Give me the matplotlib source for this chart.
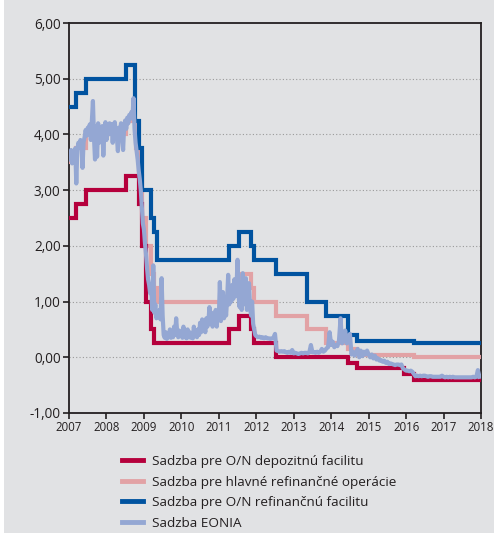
import numpy as np
import pandas as pd
import matplotlib
matplotlib.use("Agg")
import matplotlib.pyplot as plt
from matplotlib.patches import Rectangle

# ---------------- data ----------------
series_labels = [
    "Sadzba pre O/N depozitnú facilitu",
    "Sadzba pre hlavné refinančné operácie",
    "Sadzba pre O/N refinančnú facilitu",
    "Sadzba EONIA",
]

deposit_dates = ["2007-01-01", "2007-03-14", "2007-06-13", "2008-07-09", "2008-11-12",
                 "2008-12-10", "2009-01-21", "2009-03-11", "2009-04-08", "2011-04-13",
                 "2011-07-13", "2011-11-09", "2011-12-14", "2012-07-11", "2014-06-11",
                 "2014-09-10", "2015-12-09", "2016-03-16", "2017-12-31"]
deposit_rates = [2.50, 2.75, 3.00, 3.25, 2.75, 2.00, 1.00, 0.50, 0.25, 0.50,
                 0.75, 0.50, 0.25, 0.00, -0.10, -0.20, -0.30, -0.40, -0.40]

mro_dates = ["2007-01-01", "2007-03-14", "2007-06-13", "2008-07-09", "2008-10-15",
             "2008-11-12", "2008-12-10", "2009-01-21", "2009-03-11", "2009-04-08",
             "2009-05-13", "2011-04-13", "2011-07-13", "2011-11-09", "2011-12-14",
             "2012-07-11", "2013-05-08", "2013-11-13", "2014-06-11", "2014-09-10",
             "2016-03-16", "2017-12-31"]
mro_rates = [3.50, 3.75, 4.00, 4.25, 3.75, 3.25, 2.50, 2.00, 1.50, 1.25,
             1.00, 1.25, 1.50, 1.25, 1.00, 0.75, 0.50, 0.25, 0.15, 0.05,
             0.00, 0.00]

mlf_dates = ["2007-01-01", "2007-03-14", "2007-06-13", "2008-07-09", "2008-10-09",
             "2008-11-12", "2008-12-10", "2009-03-11", "2009-04-08", "2009-05-13",
             "2011-04-13", "2011-07-13", "2011-11-09", "2011-12-14", "2012-07-11",
             "2013-05-08", "2013-11-13", "2014-06-11", "2014-09-10", "2016-03-16",
             "2017-12-31"]
mlf_rates = [4.50, 4.75, 5.00, 5.25, 4.25, 3.75, 3.00, 2.50, 2.25, 1.75,
             2.00, 2.25, 2.00, 1.75, 1.50, 1.00, 0.75, 0.40, 0.30, 0.25, 0.25]

# EONIA readings, evenly spaced within each year
eonia_2007 = [3.65, 3.55, 3.72, 3.48, 3.70, 3.58, 3.75, 3.12, 3.72, 3.85, 3.76, 3.90,
              3.80, 3.40, 3.86, 3.95, 4.08, 3.98, 4.12, 4.02, 4.18, 3.90, 4.25, 4.60,
              3.95, 3.55, 4.15, 3.60, 4.20, 3.85, 4.10, 3.95, 4.15, 3.62, 4.05, 4.22]
eonia_2008 = [3.90, 4.15, 4.00, 4.20, 4.05, 4.18, 3.85, 4.15, 4.22, 4.05, 3.95, 3.70,
              4.12, 4.05, 4.20, 3.95, 3.72, 4.15, 4.25, 4.10, 4.30, 4.20, 4.35, 4.28,
              4.40, 4.30, 4.65, 4.10, 3.85, 3.70, 3.55, 3.35, 3.20, 3.00, 2.70, 2.40]
eonia_2009 = [2.30, 2.05, 1.85, 1.60, 1.40, 1.30, 1.15, 1.25, 0.85, 1.65, 0.80, 0.95,
              0.70, 0.80, 0.72, 0.85, 0.68, 1.42, 0.75, 0.40, 0.35, 0.45, 0.33, 0.40,
              0.36, 0.50, 0.35, 0.42, 0.36, 0.55, 0.40, 0.70, 0.45, 0.36, 0.48, 0.40]
eonia_2010 = [0.42, 0.35, 0.55, 0.36, 0.45, 0.34, 0.50, 0.36, 0.45, 0.35, 0.42, 0.34,
              0.55, 0.38, 0.48, 0.36, 0.50, 0.40, 0.62, 0.45, 0.68, 0.48, 0.60, 0.45,
              0.70, 0.55, 0.65, 0.90, 0.60, 0.80, 0.55, 0.75, 0.58, 0.85, 0.55, 0.80]
eonia_2011 = [0.70, 1.35, 0.65, 0.90, 1.17, 0.70, 0.95, 0.75, 1.05, 1.48, 0.95, 1.20,
              1.00, 1.30, 1.05, 1.40, 1.10, 1.25, 1.75, 1.10, 0.90, 1.35, 0.85, 1.51,
              0.95, 1.20, 1.42, 0.85, 1.15, 1.33, 0.90, 0.75, 1.00, 0.60, 0.50, 0.40]
eonia_2012 = [0.38, 0.36, 0.37, 0.35, 0.36, 0.34, 0.36, 0.34, 0.34, 0.33, 0.34, 0.35,
              0.42, 0.12, 0.11, 0.10, 0.11, 0.10, 0.11, 0.09, 0.08, 0.10, 0.08, 0.13]
eonia_2013 = [0.07, 0.08, 0.07, 0.06, 0.07, 0.08, 0.07, 0.08, 0.08, 0.07, 0.09, 0.22,
              0.09, 0.09, 0.08, 0.10, 0.08, 0.10, 0.15, 0.10, 0.12, 0.16, 0.18, 0.45]
eonia_2014 = [0.22, 0.28, 0.18, 0.22, 0.20, 0.30, 0.70, 0.25, 0.30, 0.48, 0.25, 0.35,
              0.42, 0.05, 0.10, 0.03, 0.08, 0.15, 0.00, 0.12, 0.02, 0.10, 0.05, 0.12]
eonia_2015 = [0.05, 0.00, 0.05, -0.02, 0.03, -0.04, -0.02, -0.06, -0.05, -0.08, -0.06, -0.10,
              -0.08, -0.12, -0.11, -0.12, -0.13, -0.14, -0.13, -0.13, -0.14, -0.13, -0.20, -0.22]
eonia_2016 = [-0.24, -0.24, -0.25, -0.24, -0.26, -0.30, -0.34, -0.33, -0.34, -0.33, -0.34, -0.33,
              -0.33, -0.34, -0.35, -0.34, -0.34, -0.35, -0.35, -0.35, -0.35, -0.35, -0.35, -0.33]
eonia_2017 = [-0.35, -0.36, -0.35, -0.36, -0.35, -0.36, -0.35, -0.36, -0.36, -0.36, -0.36, -0.36,
              -0.36, -0.36, -0.36, -0.36, -0.36, -0.36, -0.36, -0.35, -0.36, -0.35, -0.23, -0.35]
eonia_years = [2007, 2008, 2009, 2010, 2011, 2012, 2013, 2014, 2015, 2016, 2017]

x_ticks = [2007, 2008, 2009, 2010, 2011, 2012, 2013, 2014, 2015, 2016, 2017, 2018]
y_ticks = [-1, 0, 1, 2, 3, 4, 5, 6]
y_tick_labels = ["-1,00", "0,00", "1,00", "2,00", "3,00", "4,00", "5,00", "6,00"]

# ---------------- helpers ----------------
def dec_year(s):
    d = pd.Timestamp(s)
    start = pd.Timestamp(year=d.year, month=1, day=1)
    end = pd.Timestamp(year=d.year + 1, month=1, day=1)
    return d.year + (d - start) / (end - start)

dep_x = [dec_year(d) for d in deposit_dates]
mro_x = [dec_year(d) for d in mro_dates]
mlf_x = [dec_year(d) for d in mlf_dates]

eonia_lists = [eonia_2007, eonia_2008, eonia_2009, eonia_2010, eonia_2011, eonia_2012,
               eonia_2013, eonia_2014, eonia_2015, eonia_2016, eonia_2017]
eon_x, eon_y = [], []
for yr, vals in zip(eonia_years, eonia_lists):
    n = len(vals)
    for i, v in enumerate(vals):
        eon_x.append(yr + i / n)
        eon_y.append(v)

# ---------------- style ----------------
BG = "#e1e2e4"
C_DEP = "#b5003c"
C_MRO = "#e2a2a5"
C_MLF = "#0053a0"
C_EON = "#94a7d3"
FONT = ["Open Sans", "DejaVu Sans"]
plt.rcParams["font.family"] = FONT

W, H = 494, 533
fig = plt.figure(figsize=(W / 100, H / 100), dpi=100, facecolor=BG)
fig.patches.append(Rectangle((0, 0), 4 / W, 1, transform=fig.transFigure,
                             facecolor="white", edgecolor="none", zorder=0))

ax = fig.add_axes([69 / W, 1 - 413 / H, (481 - 69) / W, (413 - 23) / H])
ax.set_facecolor(BG)

ax.step(mro_x, mro_rates, where="post", color=C_MRO, lw=3.0, zorder=3,
        label=series_labels[1], solid_joinstyle="miter")
ax.step(dep_x, deposit_rates, where="post", color=C_DEP, lw=3.0, zorder=4,
        label=series_labels[0], solid_joinstyle="miter")
ax.step(mlf_x, mlf_rates, where="post", color=C_MLF, lw=3.0, zorder=4,
        label=series_labels[2], solid_joinstyle="miter")
ax.plot(eon_x, eon_y, color=C_EON, lw=3.0, zorder=5, label=series_labels[3])

ax.set_xlim(2007, 2018)
ax.set_ylim(-1, 6)
ax.set_xticks(x_ticks)
ax.set_xticklabels([str(t) for t in x_ticks], fontsize=8.3, color="#231f20")
ax.set_yticks(y_ticks)
ax.set_yticklabels(y_tick_labels, fontsize=9.8, color="#231f20")

for v in [0, 1, 2, 3, 4, 5]:
    ax.axhline(v, color="#9a9a9a", lw=0.8, ls=(0, (1, 2)), zorder=1)

for s in ax.spines.values():
    s.set_color("#231f20")
    s.set_linewidth(1.3)
ax.tick_params(axis="both", direction="out", length=4, width=1.2, color="#231f20",
               pad=2)
ax.tick_params(top=False, right=False)

handles, labels = ax.get_legend_handles_labels()
order = [1, 0, 2, 3]
leg = fig.legend([handles[i] for i in order], [labels[i] for i in order],
                 loc="upper left", bbox_to_anchor=(122 / W, 1 - 455 / H),
                 frameon=False, fontsize=9.7, handlelength=1.58, handletextpad=0.68,
                 labelspacing=0.56, borderpad=0, borderaxespad=0)
for line in leg.get_lines():
    line.set_linewidth(3.5)
for t in leg.get_texts():
    t.set_color("#231f20")

fig.savefig("out.png", dpi=100, facecolor=BG)
